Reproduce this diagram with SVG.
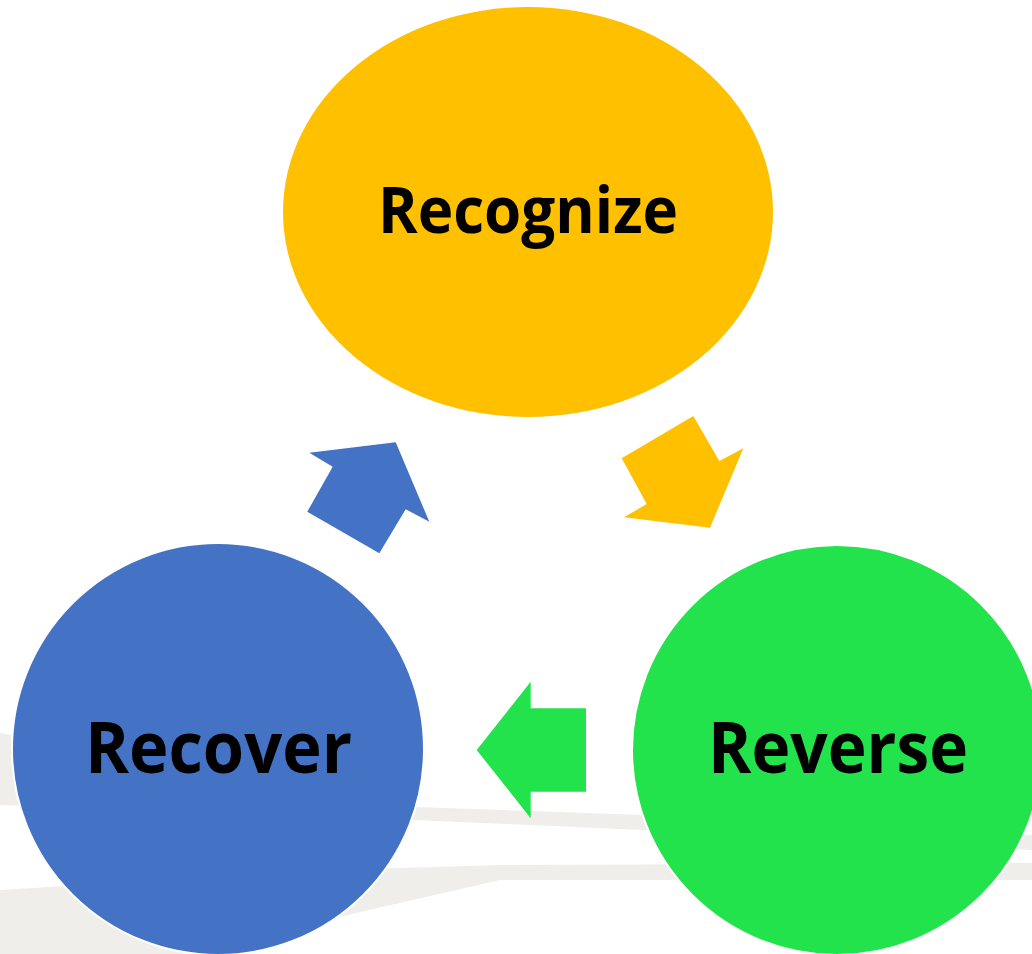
<svg xmlns="http://www.w3.org/2000/svg" width="1032" height="954" viewBox="0 0 1032 954">
  <style>
    .bg { fill: #EFEEEB; }
    .lbl { font-family: "Open Sans", Lato, "Liberation Sans", sans-serif; font-weight: bold; fill: #000000; text-anchor: middle; }
    .node { stroke: #FFFFFF; stroke-width: 2; }
  </style>
  <rect width="1032" height="954" fill="#FFFFFF"/>
  <g id="background">
    <path class="bg" d="M0,733 C150,760 300,800 415,807 L643,815 L1032,835 L1032,850 L643,830 L415,820 C300,815 150,808 0,805 Z"/>
    <path class="bg" d="M0,890 C150,880 300,870 400,868 L500,865 L1032,863 L1032,880 L500,880 L400,903 C300,925 200,954 0,990 Z"/>
  </g>
  <g id="node-recognize">
    <ellipse cx="528" cy="212" rx="245" ry="205" fill="#FFC000"/>
    <text class="lbl" x="528" y="233" font-size="64" textLength="300" lengthAdjust="spacingAndGlyphs">Recognize</text>
  </g>
  <g id="node-recover">
    <circle class="node" cx="218" cy="749" r="206" fill="#4472C4"/>
    <text class="lbl" x="218.5" y="773" font-size="71" textLength="267" lengthAdjust="spacingAndGlyphs">Recover</text>
  </g>
  <g id="node-reverse">
    <circle class="node" cx="837" cy="750" r="205" fill="#23E34D"/>
    <text class="lbl" x="838" y="773" font-size="71" textLength="260" lengthAdjust="spacingAndGlyphs">Reverse</text>
  </g>
  <g id="connectors">
    <polygon id="arrow-recover-recognize" fill="#4472C4" points="309.3,452.7 395.7,442.3 429.3,521.7 405.7,509.3 379.3,553.3 307.3,511.7 332.7,466.7"/>
    <polygon id="arrow-recognize-reverse" fill="#FFC000" points="693.3,416 719.3,461 743.3,448.3 710,527.7 624,517.3 646.7,504 621.7,458.3"/>
    <polygon id="arrow-reverse-recover" fill="#23E34D" points="476.7,750 530.7,681.7 530.7,708.3 586,708.3 586,791.7 530.7,791.7 530.7,818.3"/>
  </g>
</svg>
